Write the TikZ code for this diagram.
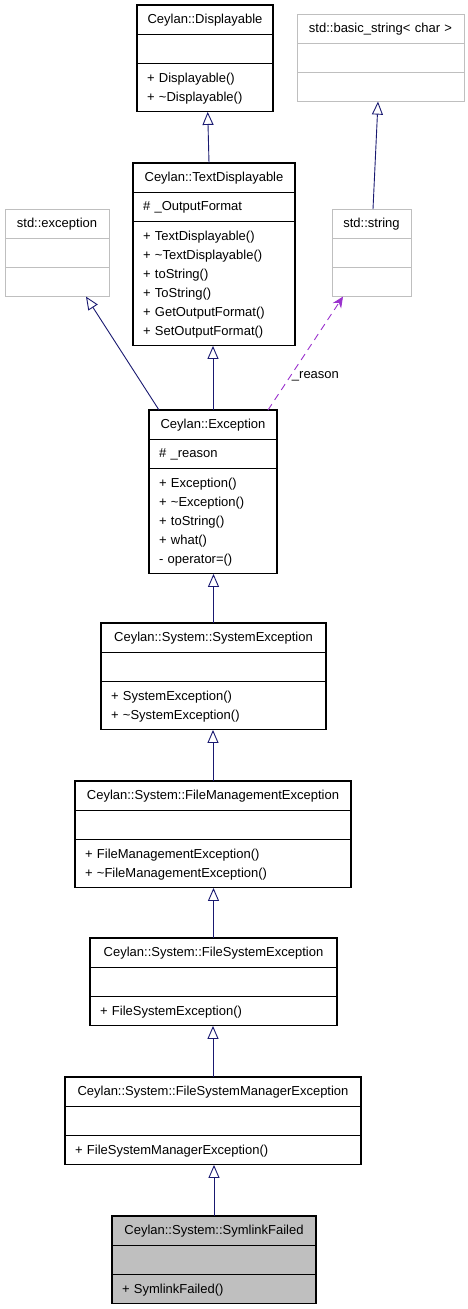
\documentclass[tikz,border=0pt]{standalone}
\usepackage{fontspec}
\setmainfont{Liberation Sans}
\usepackage{xcolor}
\usepackage{tikz}
\usetikzlibrary{shapes.multipart, arrows.meta, positioning}
\definecolor{cEdge}{RGB}{25,25,112}
\definecolor{cUse}{RGB}{154,50,205}
\definecolor{cGrey}{RGB}{191,191,191}
\setlength{\parindent}{0pt}
\newcommand{\umlbox}[3]{{\centering\strut#1\par}\nodepart{second}\strut#2\nodepart{third}\strut#3\strut}

\begin{document}
\begin{tikzpicture}[x=1pt, y=-1pt, font=\fontsize{13}{19}\selectfont,
					cls/.style={rectangle split, rectangle split parts=3, draw=black, line width=1.1pt, fill=white, inner xsep=10pt, inner ysep=4.6pt, outer sep=0pt, align=left, anchor=north, text width=#1},
					ext/.style={cls=#1, draw=cGrey, line width=1pt},
					inherit/.style={cEdge, line width=0.9pt, -{Triangle[open, length=13pt, width=11pt]}},
					uses/.style={cUse, line width=0.9pt, dash pattern=on 7pt off 5pt, -{Stealth[length=11pt, width=10pt]}}]
					\useasboundingbox (0,0) rectangle (468,1309);
					\node[cls=116pt] (displayable) at (205,5) {\umlbox{Ceylan::Displayable}{}{+ Displayable()\\+ \textasciitilde Displayable()}};
					\node[ext=147pt] (basicstring) at (380.5,14) {\umlbox{std::basic\_string\textless{} char \textgreater}{}{}};
					\node[cls=142pt] (textdisp) at (214,163) {\umlbox{Ceylan::TextDisplayable}{\# \_OutputFormat}{+ TextDisplayable()\\+ \textasciitilde TextDisplayable()\\+ toString()\\+ ToString()\\+ GetOutputFormat()\\+ SetOutputFormat()}};
					\node[ext=84pt] (stdexc) at (57,209) {\umlbox{std::exception}{}{}};
					\node[ext=59pt] (stdstring) at (371.5,209) {\umlbox{std::string}{}{}};
					\node[cls=108pt] (exc) at (213,410) {\umlbox{Ceylan::Exception}{\# \_reason}{+ Exception()\\+ \textasciitilde Exception()\\+ toString()\\+ what()\\- operator=()}};
					\node[cls=205pt] (sysexc) at (213.5,623) {\umlbox{Ceylan::System::SystemException}{}{+ SystemException()\\+ \textasciitilde SystemException()}};
					\node[cls=256pt] (fmexc) at (213,781) {\umlbox{Ceylan::System::FileManagementException}{}{+ FileManagementException()\\+ \textasciitilde FileManagementException()}};
					\node[cls=227pt] (fsexc) at (213.5,938) {\umlbox{Ceylan::System::FileSystemException}{}{+ FileSystemException()}};
					\node[cls=276pt] (fsmexc) at (213,1077) {\umlbox{Ceylan::System::FileSystemManagerException}{}{+ FileSystemManagerException()}};
					\node[cls=184pt, fill=cGrey] (symlink) at (214,1216) {\umlbox{Ceylan::System::SymlinkFailed}{}{+ SymlinkFailed()}};
					\draw[inherit] ([xshift=-5pt]textdisp.north) -- ([xshift=2.7pt]displayable.south);
					\draw[inherit] ([xshift=1.5pt]stdstring.north) -- ([xshift=-2.5pt]basicstring.south);
					\draw[inherit] ([xshift=10pt]exc.north west) -- ([xshift=29pt]stdexc.south);
					\draw[inherit] (exc.north) -- (exc.north |- textdisp.south);
					\draw[uses] ([xshift=-9pt]exc.north east) -- node[pos=0.3, right, inner sep=1pt, text=black] (reason) {\_reason} ([xshift=11pt]stdstring.south west);
					\draw[inherit] (sysexc.north) -- (sysexc.north |- exc.south);
					\draw[inherit] (fmexc.north) -- (fmexc.north |- sysexc.south);
					\draw[inherit] (fsexc.north) -- (fsexc.north |- fmexc.south);
					\draw[inherit] (fsmexc.north) -- (fsmexc.north |- fsexc.south);
					\draw[inherit] (symlink.north) -- (symlink.north |- fsmexc.south);
				\end{tikzpicture}
\end{document}
